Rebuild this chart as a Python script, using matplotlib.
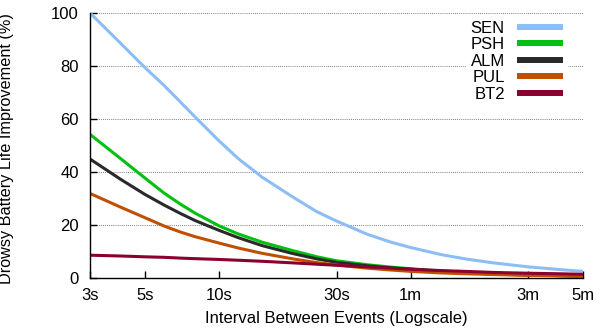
import matplotlib.pyplot as plt

plt.rcParams["font.family"] = ["Liberation Sans", "DejaVu Sans"]

# interval between events, seconds
interval = [3, 4, 5, 6, 7, 8, 10, 12, 15, 20, 25, 30, 40, 50, 60, 80, 100, 130, 180, 240, 300]

sen = [100, 88.5, 79.5, 72.6, 66.3, 60.8, 51.8, 45, 38, 30.5, 25, 21.5, 16.5, 13.5, 11.5, 8.8, 7.2, 5.7, 4.2, 3.2, 2.5]
psh = [54.2, 45, 37.8, 32, 27.8, 24.5, 19.7, 16.6, 13.5, 10.3, 8, 6.5, 5, 4.1, 3.5, 2.6, 2.1, 1.6, 1.2, 0.9, 0.7]
alm = [44.9, 37.2, 31.6, 27.5, 24.3, 21.7, 18, 15.2, 12.2, 9.2, 7.2, 5.9, 4.6, 3.8, 3.3, 2.5, 2.0, 1.5, 1.1, 0.9, 0.7]
pul = [31.9, 26.7, 22.8, 19.6, 17.3, 15.6, 13.2, 11.3, 9.3, 7.2, 5.8, 4.9, 3.7, 3.0, 2.5, 1.9, 1.6, 1.3, 1.0, 0.8, 0.6]
bt2 = [8.6, 8.3, 8.0, 7.8, 7.5, 7.3, 7.0, 6.7, 6.3, 5.7, 5.2, 4.8, 4.2, 3.7, 3.3, 2.8, 2.5, 2.1, 1.8, 1.6, 1.4]

series = ["SEN", "PSH", "ALM", "PUL", "BT2"]
colors = ["#8dbdf5", "#00c010", "#2a2a2a", "#c05000", "#8a0030"]

xticks = [3, 5, 10, 30, 60, 180, 300]
xtick_labels = ["3s", "5s", "10s", "30s", "1m", "3m", "5m"]

fig = plt.figure(figsize=(6.02, 3.30), dpi=100)
ax = fig.add_axes([90 / 602, 1 - 278 / 330, 493 / 602, 265 / 330])

for name, vals, c in zip(series, [sen, psh, alm, pul, bt2], colors):
    ax.plot(interval, vals, color=c, lw=2.2, label=name, solid_capstyle="butt")

ax.set_xscale("log")
ax.set_xlim(3, 300)
ax.set_ylim(0, 100)
ax.set_xticks(xticks)
ax.set_xticklabels(xtick_labels)
ax.xaxis.set_minor_locator(plt.NullLocator())
ax.set_yticks([0, 20, 40, 60, 80, 100])

for yv in [20, 40, 60, 80, 100]:
    ax.axhline(yv, color="#555555", lw=0.6, ls=(0, (1, 1.5)), zorder=0)

for s in ["top", "right"]:
    ax.spines[s].set_visible(False)
ax.spines["left"].set_linewidth(1.0)
ax.spines["bottom"].set_linewidth(1.0)
ax.tick_params(axis="both", direction="in", length=5, width=1.0, labelsize=12, colors="black")
ax.tick_params(axis="x", pad=7)
ax.tick_params(axis="y", pad=8)

ax.set_xlabel("Interval Between Events (Logscale)", fontsize=12)
ax.set_ylabel("Drowsy Battery Life Improvement (%)", fontsize=11.7)
ax.xaxis.set_label_coords(0.5, -0.125)
ax.yaxis.set_label_coords(-0.155, 0.49)

leg = ax.legend(loc="upper right", bbox_to_anchor=(0.97, 0.99), markerfirst=False,
                frameon=True, fontsize=12, handlelength=2.8, handletextpad=0.7,
                labelspacing=0.09, borderpad=0.3, borderaxespad=0)
leg.get_frame().set_edgecolor("none")
leg.get_frame().set_facecolor("white")
leg.get_frame().set_alpha(1)
for t in leg.get_texts():
    t.set_ha("right")
for h in leg.get_lines():
    h.set_linewidth(4.3)

fig.savefig("out.png", dpi=100)
